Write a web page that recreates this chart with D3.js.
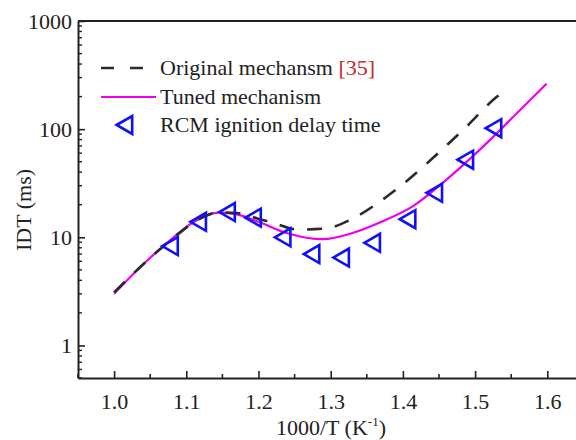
<!DOCTYPE html>
<html>
<head>
<meta charset="utf-8">
<script src="https://cdn.jsdelivr.net/npm/d3@7"></script>
<style>
  body { margin: 0; background: #fff; }
  svg { display: block; font-family: "Liberation Serif", "Times New Roman", serif; }
</style>
</head>
<body>
<svg id="chart"></svg>
<script>
// original mechanism (dashed)
let origX = [1.00, 1.04, 1.08, 1.12, 1.145, 1.17, 1.20, 1.22, 1.255, 1.29, 1.33, 1.369, 1.405, 1.45, 1.489, 1.528, 1.539]
let origY = [3.1, 5.6, 9.6, 15.0, 17.0, 16.8, 14.8, 13.6, 11.8, 12.0, 14.8, 21.6, 33, 61, 107, 194, 222]

// tuned mechanism (solid magenta)
let tunedX = [1.00, 1.04, 1.07, 1.11, 1.145, 1.17, 1.20, 1.24, 1.289, 1.331, 1.368, 1.414, 1.46, 1.507, 1.553, 1.599]
let tunedY = [3.0, 5.6, 8.5, 13.8, 16.9, 16.3, 13.9, 10.9, 9.6, 11.0, 13.7, 19.4, 34, 65, 130, 263]

// RCM measurements
let rcmX = [1.081, 1.120, 1.160, 1.196, 1.237, 1.277, 1.318, 1.361, 1.410, 1.447, 1.490, 1.529]
let rcmY = [8.3, 13.9, 17.1, 15.2, 10.0, 7.0, 6.5, 8.9, 14.7, 25.8, 52.2, 102]

let xTicks = [1.0, 1.1, 1.2, 1.3, 1.4, 1.5, 1.6]
let yTicks = [1, 10, 100, 1000]

let width = 576
let height = 440
let fontSize = '22px'

let svg = d3.select('#chart')
  .attr('width', width)
  .attr('height', height)

let x = d3.scaleLinear().domain([0.95, 1.65]).range([78, 583.4])
let y = d3.scaleLog().domain([0.5, 1000]).range([378, 21])

let axisColor = '#222'

// minor ticks
let xMinor = d3.range(0.95, 1.66, 0.05).map(v => +v.toFixed(2))
  .filter(v => !xTicks.some(t => Math.abs(t - v) < 1e-6))
let yMinor = []
;[0.1, 1, 10, 100].forEach(dec => {
  for (let k = 2; k <= 9; k++) {
    let v = dec * k
    if (v >= 0.5 && v < 1000) yMinor.push(v)
  }
})

let xAxis = d3.axisBottom(x).tickValues(xTicks).tickFormat(d3.format('.1f'))
  .tickSizeInner(-7).tickSizeOuter(0).tickPadding(15)
let yAxis = d3.axisLeft(y).tickValues(yTicks).tickFormat(d3.format('d'))
  .tickSizeInner(-7).tickSizeOuter(0).tickPadding(6)

let gx = svg.append('g')
  .attr('transform', `translate(0, ${y.range()[0]})`)
  .call(xAxis)
let gy = svg.append('g')
  .attr('transform', `translate(${x.range()[0]}, 0)`)
  .call(yAxis)

;[gx, gy].forEach(g => {
  g.select('.domain').attr('stroke', axisColor).attr('stroke-width', 2)
  g.selectAll('.tick line').attr('stroke', axisColor).attr('stroke-width', 1.6)
  g.selectAll('.tick text')
    .attr('fill', '#222')
    .style('font-family', '"Liberation Serif", serif')
    .style('font-size', fontSize)
})

svg.append('g').selectAll('line')
  .data(xMinor)
  .join('line')
    .attr('x1', d => x(d)).attr('x2', d => x(d))
    .attr('y1', y.range()[0]).attr('y2', y.range()[0] - 4)
    .attr('stroke', axisColor).attr('stroke-width', 1.6)

svg.append('g').selectAll('line')
  .data(yMinor)
  .join('line')
    .attr('x1', x.range()[0]).attr('x2', x.range()[0] + 4)
    .attr('y1', d => y(d)).attr('y2', d => y(d))
    .attr('stroke', axisColor).attr('stroke-width', 1.4)

// top frame line
svg.append('line')
  .attr('x1', x.range()[0]).attr('x2', x.range()[1])
  .attr('y1', y.range()[1]).attr('y2', y.range()[1])
  .attr('stroke', axisColor).attr('stroke-width', 2)

let line = d3.line()
  .x(d => x(d[0]))
  .y(d => y(d[1]))
  .curve(d3.curveMonotoneX)

let magenta = '#ee00ee'
let blue = '#1010f8'

svg.append('path')
  .datum(d3.zip(tunedX, tunedY))
  .attr('fill', 'none')
  .attr('stroke', magenta)
  .attr('stroke-width', 2.2)
  .attr('d', line)

svg.append('path')
  .datum(d3.zip(origX, origY))
  .attr('fill', 'none')
  .attr('stroke', '#2a2a2a')
  .attr('stroke-width', 2.6)
  .attr('stroke-dasharray', '15,13')
  .attr('d', line)

let tri = d3.symbol().type(d3.symbolTriangle).size(140)

svg.append('g').selectAll('path')
  .data(d3.zip(rcmX, rcmY))
  .join('path')
    .attr('d', tri)
    .attr('transform', d => `translate(${x(d[0])}, ${y(d[1])}) rotate(-90)`)
    .attr('fill', 'none')
    .attr('stroke', blue)
    .attr('stroke-width', 2.6)

// legend
let legend = svg.append('g')
let rows = [68, 97, 125]

legend.append('line')
  .attr('x1', 101).attr('x2', 144)
  .attr('y1', rows[0]).attr('y2', rows[0])
  .attr('stroke', '#2a2a2a').attr('stroke-width', 2.6)
  .attr('stroke-dasharray', '13,16')
legend.append('line')
  .attr('x1', 101).attr('x2', 156)
  .attr('y1', rows[1]).attr('y2', rows[1])
  .attr('stroke', magenta).attr('stroke-width', 2.2)
legend.append('path')
  .attr('d', tri)
  .attr('transform', `translate(127, ${rows[2]}) rotate(-90)`)
  .attr('fill', 'none')
  .attr('stroke', blue)
  .attr('stroke-width', 2.6)

let t1 = legend.append('text')
  .attr('x', 160).attr('y', rows[0] + 7)
  .style('font-size', fontSize).attr('fill', '#222')
t1.append('tspan').text('Original mechansm ')
t1.append('tspan').attr('fill', '#c8282a').text('[35]')

legend.append('text')
  .attr('x', 160).attr('y', rows[1] + 7)
  .style('font-size', fontSize).attr('fill', '#222')
  .text('Tuned mechanism')
legend.append('text')
  .attr('x', 160).attr('y', rows[2] + 7)
  .style('font-size', fontSize).attr('fill', '#222')
  .text('RCM ignition delay time')

// axis titles
let xt = svg.append('text')
  .attr('x', 331).attr('y', 435)
  .attr('text-anchor', 'middle')
  .style('font-size', fontSize).attr('fill', '#222')
xt.append('tspan').text('1000/T (K')
xt.append('tspan').attr('dy', -9).style('font-size', '13px').text('-1')
xt.append('tspan').attr('dy', 9).text(')')

svg.append('text')
  .attr('transform', 'translate(31, 210) rotate(-90)')
  .attr('text-anchor', 'middle')
  .style('font-size', fontSize).attr('fill', '#222')
  .text('IDT (ms)')
</script>
</body>
</html>
